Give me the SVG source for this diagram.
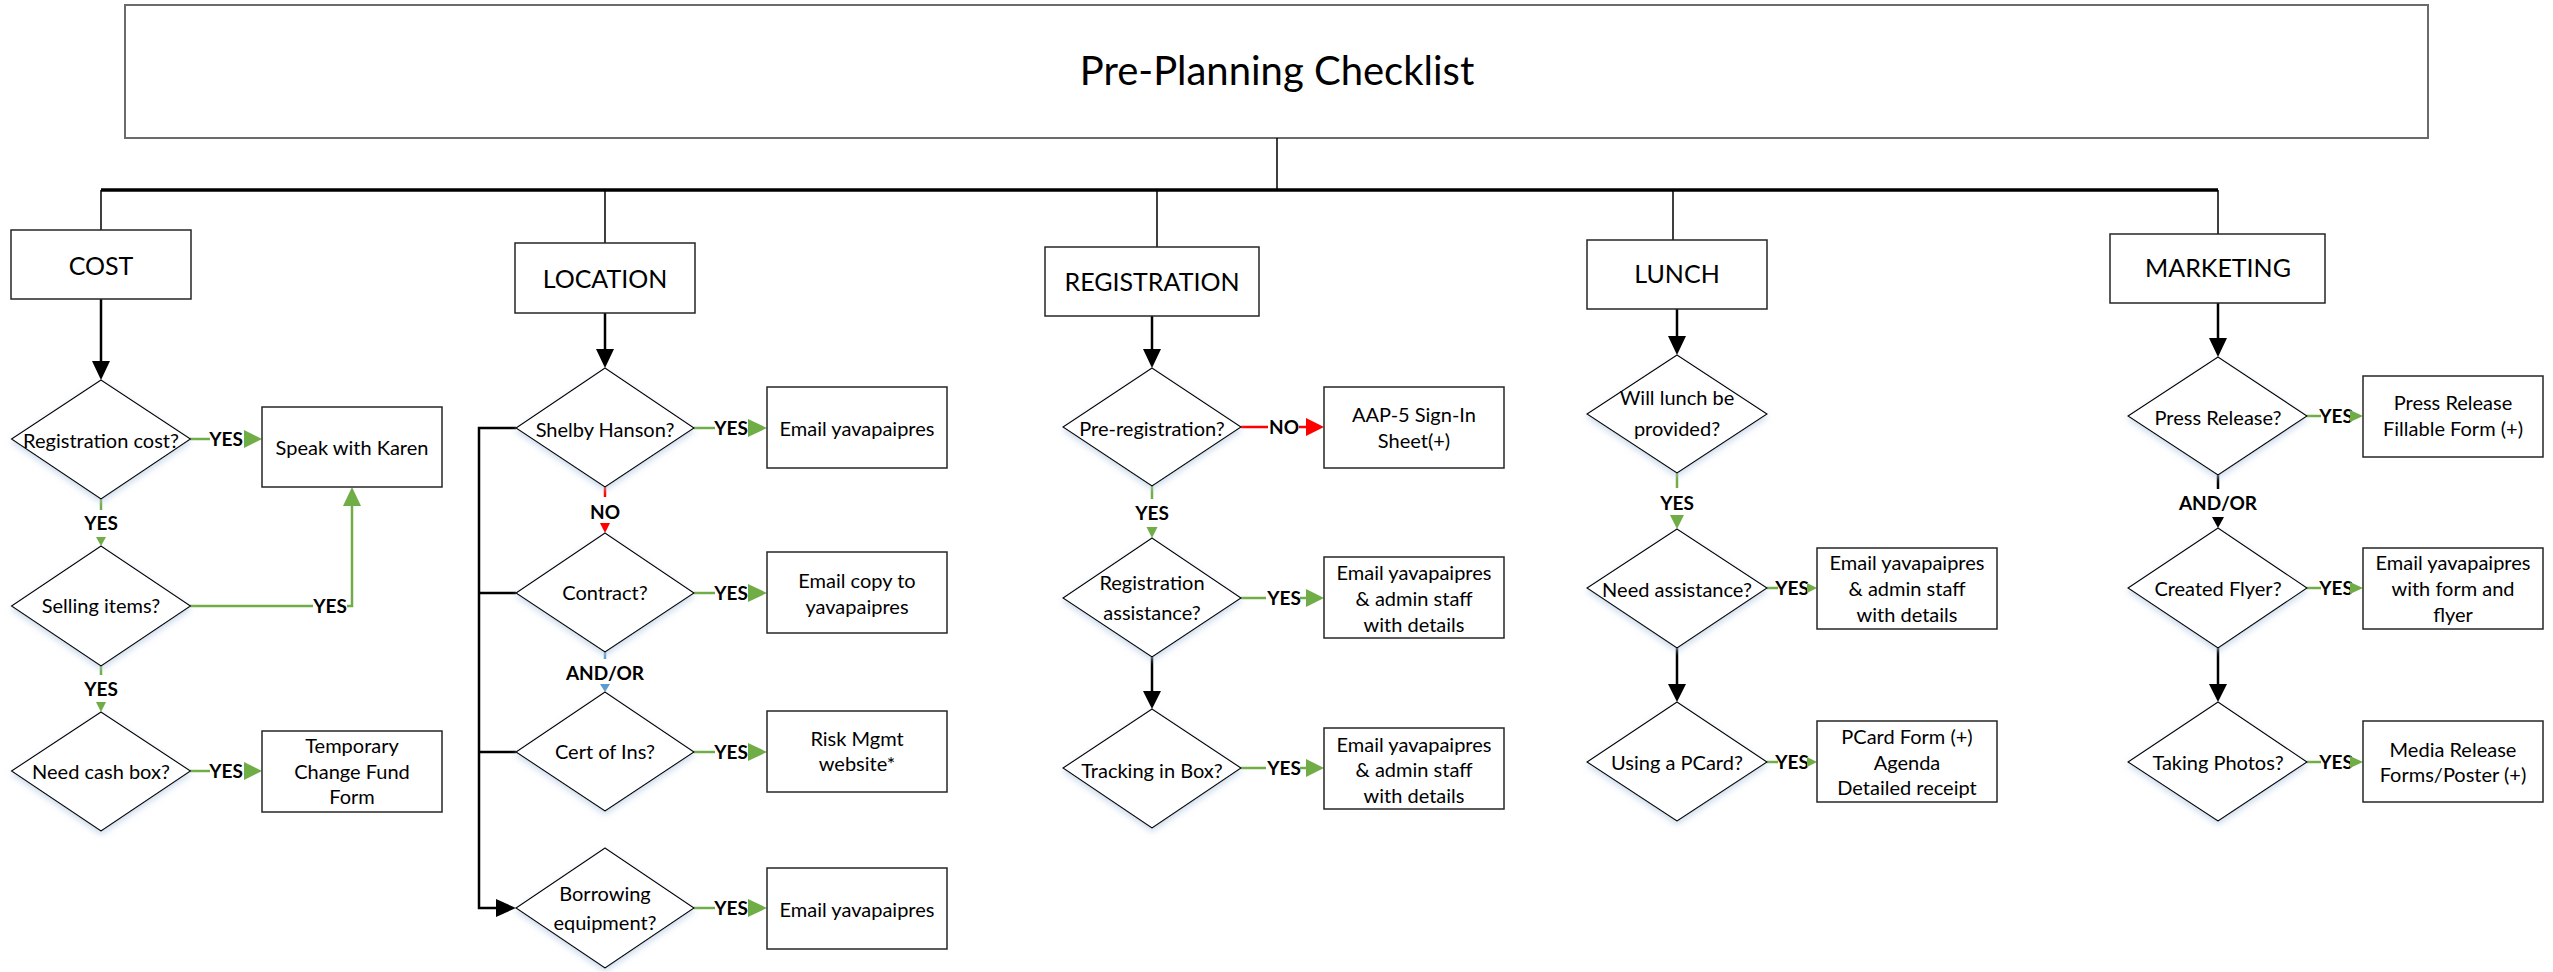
<svg xmlns="http://www.w3.org/2000/svg" width="2553" height="972" viewBox="0 0 2553 972">
<style>
.bg{fill:#fff}
.box{fill:#fff;stroke:#262626;stroke-width:1.5}
.title{fill:#fff;stroke:#6b6b6b;stroke-width:2}
.dia{fill:#fff;stroke:#000;stroke-width:1.2;filter:url(#glow)}
.t{font-family:Lato,"Liberation Sans",sans-serif;font-size:20px;fill:#000;text-anchor:middle}
.h{font-size:25px}
.tt{font-size:40px}
.lbl{font-family:Lato,"Liberation Sans",sans-serif;font-weight:bold;font-size:19px;fill:#000;text-anchor:middle}
.g{stroke:#70AD47;stroke-width:2.5;fill:none}
.r{stroke:#FF0000;stroke-width:2.5;fill:none}
.bl{stroke:#5B9BD5;stroke-width:2.5;fill:none}
.k{stroke:#000;stroke-width:2.5;fill:none}
.kt{stroke:#000;stroke-width:1.5;fill:none}
.bus{stroke:#000;stroke-width:3.5;fill:none}
.ga{fill:#70AD47}
.ra{fill:#FF0000}
.ba{fill:#5B9BD5}
.ka{fill:#000}
</style>
<defs>
<filter id="glow" x="-20%" y="-20%" width="140%" height="150%">
<feDropShadow dx="0" dy="3" stdDeviation="3" flood-color="#b8cce4" flood-opacity="0.7"/>
</filter>
</defs>
<rect class="bg" x="0" y="0" width="2553" height="972"/>

<!-- Title -->
<g id="title">
<rect class="title" x="125" y="5" width="2303" height="133"/>
<text class="t tt" x="1277" y="85">Pre-Planning Checklist</text>
</g>

<!-- Connectors -->
<g id="connectors">
<path class="kt" d="M1277,138 V190"/>
<path class="bus" d="M101,190 H2218"/>
<path class="kt" d="M101,190 V230 M605,190 V243 M1157,190 V247 M1673,190 V240 M2218,190 V234"/>

<!-- COST -->
<path class="k" d="M101,299 V362"/><polygon class="ka" points="92,361 110,361 101,380"/>
<path class="g" d="M190,439 H210"/><text class="lbl" x="226" y="446">YES</text><polygon class="ga" points="244,430 262,439 244,448"/>
<path class="g" d="M101,499 V510"/><text class="lbl" x="101" y="530">YES</text><polygon class="ga" points="96,537 106,537 101,546"/>
<path class="g" d="M190,606 H313 M347,606 H352 V506"/><text class="lbl" x="330" y="613">YES</text><polygon class="ga" points="343,506 361,506 352,487"/>
<path class="g" d="M101,666 V675"/><text class="lbl" x="101" y="696">YES</text><polygon class="ga" points="96,702 106,702 101,712"/>
<path class="g" d="M190,771 H210"/><text class="lbl" x="226" y="778">YES</text><polygon class="ga" points="244,762 262,771 244,780"/>

<!-- LOCATION -->
<path class="k" d="M605,313 V350"/><polygon class="ka" points="596,349 614,349 605,368"/>
<path class="g" d="M694,428 H715"/><text class="lbl" x="731" y="435">YES</text><polygon class="ga" points="748,419 767,428 748,437"/>
<path class="r" d="M605,487 V497"/><text class="lbl" x="605" y="519">NO</text><polygon class="ra" points="600,523 610,523 605,533"/>
<path class="g" d="M694,593 H715"/><text class="lbl" x="731" y="600">YES</text><polygon class="ga" points="748,584 767,593 748,602"/>
<path class="bl" d="M605,652 V659"/><text class="lbl" x="605" y="680">AND/OR</text><polygon class="ba" points="600,684 610,684 605,692"/>
<path class="g" d="M694,752 H715"/><text class="lbl" x="731" y="759">YES</text><polygon class="ga" points="748,743 767,752 748,761"/>
<path class="g" d="M694,908 H715"/><text class="lbl" x="731" y="915">YES</text><polygon class="ga" points="748,899 767,908 748,917"/>
<path class="k" d="M516,428 H479 V908 H497 M479,593 H516 M479,752 H516"/><polygon class="ka" points="496,899 516,908 496,917"/>

<!-- REGISTRATION -->
<path class="k" d="M1152,316 V350"/><polygon class="ka" points="1143,349 1161,349 1152,368"/>
<path class="r" d="M1241,427 H1268 M1299,427 H1307"/><text class="lbl" x="1284" y="434">NO</text><polygon class="ra" points="1306,418 1324,427 1306,436"/>
<path class="g" d="M1152,486 V499"/><text class="lbl" x="1152" y="520">YES</text><polygon class="ga" points="1146.5,527 1157.5,527 1152,538"/>
<path class="g" d="M1241,598 H1266 M1300,598 H1307"/><text class="lbl" x="1284" y="605">YES</text><polygon class="ga" points="1306,589 1324,598 1306,607"/>
<path class="k" d="M1152,657 V692"/><polygon class="ka" points="1143,691 1161,691 1152,709"/>
<path class="g" d="M1241,768 H1266 M1300,768 H1307"/><text class="lbl" x="1284" y="775">YES</text><polygon class="ga" points="1306,759 1324,768 1306,777"/>

<!-- LUNCH -->
<path class="k" d="M1677,309 V337"/><polygon class="ka" points="1668,336 1686,336 1677,355"/>
<path class="g" d="M1677,473 V488"/><text class="lbl" x="1677" y="510">YES</text><polygon class="ga" points="1670,515 1684,515 1677,529"/>
<path class="g" d="M1767,588 H1778"/><text class="lbl" x="1792" y="595">YES</text><polygon class="ga" points="1807,583 1817,588 1807,593"/>
<path class="k" d="M1677,648 V685"/><polygon class="ka" points="1668,684 1686,684 1677,702"/>
<path class="g" d="M1767,762 H1778"/><text class="lbl" x="1792" y="769">YES</text><polygon class="ga" points="1807,757 1817,762 1807,767"/>

<!-- MARKETING -->
<path class="k" d="M2218,303 V339"/><polygon class="ka" points="2209,338 2227,338 2218,357"/>
<path class="g" d="M2307,416 H2321"/><text class="lbl" x="2336" y="423">YES</text><polygon class="ga" points="2350,410 2363,416 2350,422"/>
<path class="k" d="M2218,475 V489"/><text class="lbl" x="2218" y="510">AND/OR</text><polygon class="ka" points="2212,517 2224,517 2218,528"/>
<path class="g" d="M2307,588 H2321"/><text class="lbl" x="2336" y="595">YES</text><polygon class="ga" points="2350,582 2363,588 2350,594"/>
<path class="k" d="M2218,648 V685"/><polygon class="ka" points="2209,684 2227,684 2218,702"/>
<path class="g" d="M2307,762 H2321"/><text class="lbl" x="2336" y="769">YES</text><polygon class="ga" points="2350,756 2363,762 2350,768"/>
</g>

<!-- COST nodes -->
<g id="cost"><rect class="box" x="11" y="230" width="180" height="69"/><text class="t h" x="101" y="275">COST</text></g>
<g id="cost-q1"><polygon class="dia" points="101,380 190.5,439 101,499 11.5,439"/><text class="t" x="101" y="448">Registration cost?</text></g>
<g id="cost-a1"><rect class="box" x="262" y="407" width="180" height="80"/><text class="t" x="352" y="455">Speak with Karen</text></g>
<g id="cost-q2"><polygon class="dia" points="101,546 190.5,606 101,666 11.5,606"/><text class="t" x="101" y="613">Selling items?</text></g>
<g id="cost-q3"><polygon class="dia" points="101,712 190.5,771 101,831 11.5,771"/><text class="t" x="101" y="779">Need cash box?</text></g>
<g id="cost-a3"><rect class="box" x="262" y="731" width="180" height="81"/><text class="t" x="352" y="753">Temporary</text><text class="t" x="352" y="778.5">Change Fund</text><text class="t" x="352" y="804">Form</text></g>

<!-- LOCATION nodes -->
<g id="location"><rect class="box" x="515" y="243" width="180" height="70"/><text class="t h" x="605" y="288">LOCATION</text></g>
<g id="loc-q1"><polygon class="dia" points="605,368 694,428 605,487 516,428"/><text class="t" x="605" y="437">Shelby Hanson?</text></g>
<g id="loc-a1"><rect class="box" x="767" y="387" width="180" height="81"/><text class="t" x="857" y="436">Email yavapaipres</text></g>
<g id="loc-q2"><polygon class="dia" points="605,533 694,593 605,652 516,593"/><text class="t" x="605" y="600">Contract?</text></g>
<g id="loc-a2"><rect class="box" x="767" y="552" width="180" height="81"/><text class="t" x="857" y="588">Email copy to</text><text class="t" x="857" y="614">yavapaipres</text></g>
<g id="loc-q3"><polygon class="dia" points="605,692 694,752 605,811 516,752"/><text class="t" x="605" y="759">Cert of Ins?</text></g>
<g id="loc-a3"><rect class="box" x="767" y="711" width="180" height="81"/><text class="t" x="857" y="746">Risk Mgmt</text><text class="t" x="857" y="771">website*</text></g>
<g id="loc-q4"><polygon class="dia" points="605,848 694,908 605,968 516,908"/><text class="t" x="605" y="901">Borrowing</text><text class="t" x="605" y="930">equipment?</text></g>
<g id="loc-a4"><rect class="box" x="767" y="868" width="180" height="81"/><text class="t" x="857" y="917">Email yavapaipres</text></g>

<!-- REGISTRATION nodes -->
<g id="registration"><rect class="box" x="1045" y="247" width="214" height="69"/><text class="t h" x="1152" y="291">REGISTRATION</text></g>
<g id="reg-q1"><polygon class="dia" points="1152,368 1241,427 1152,486 1063,427"/><text class="t" x="1152" y="436">Pre-registration?</text></g>
<g id="reg-a1"><rect class="box" x="1324" y="387" width="180" height="81"/><text class="t" x="1414" y="422">AAP-5 Sign-In</text><text class="t" x="1414" y="448">Sheet(+)</text></g>
<g id="reg-q2"><polygon class="dia" points="1152,538 1241,598 1152,657 1063,598"/><text class="t" x="1152" y="590">Registration</text><text class="t" x="1152" y="620">assistance?</text></g>
<g id="reg-a2"><rect class="box" x="1324" y="557" width="180" height="81"/><text class="t" x="1414" y="580">Email yavapaipres</text><text class="t" x="1414" y="606">&amp; admin staff</text><text class="t" x="1414" y="632">with details</text></g>
<g id="reg-q3"><polygon class="dia" points="1152,709 1241,768 1152,828 1063,768"/><text class="t" x="1152" y="778">Tracking in Box?</text></g>
<g id="reg-a3"><rect class="box" x="1324" y="728" width="180" height="81"/><text class="t" x="1414" y="752">Email yavapaipres</text><text class="t" x="1414" y="777">&amp; admin staff</text><text class="t" x="1414" y="803">with details</text></g>

<!-- LUNCH nodes -->
<g id="lunch"><rect class="box" x="1587" y="240" width="180" height="69"/><text class="t h" x="1677" y="283">LUNCH</text></g>
<g id="lunch-q1"><polygon class="dia" points="1677,355 1767,414 1677,473 1587,414"/><text class="t" x="1677" y="405">Will lunch be</text><text class="t" x="1677" y="436">provided?</text></g>
<g id="lunch-q2"><polygon class="dia" points="1677,529 1767,588 1677,648 1587,588"/><text class="t" x="1677" y="597">Need assistance?</text></g>
<g id="lunch-a2"><rect class="box" x="1817" y="548" width="180" height="81"/><text class="t" x="1907" y="570">Email yavapaipres</text><text class="t" x="1907" y="596">&amp; admin staff</text><text class="t" x="1907" y="622">with details</text></g>
<g id="lunch-q3"><polygon class="dia" points="1677,702 1767,762 1677,821 1587,762"/><text class="t" x="1677" y="770">Using a PCard?</text></g>
<g id="lunch-a3"><rect class="box" x="1817" y="721" width="180" height="81"/><text class="t" x="1907" y="744">PCard Form (+)</text><text class="t" x="1907" y="770">Agenda</text><text class="t" x="1907" y="795">Detailed receipt</text></g>

<!-- MARKETING nodes -->
<g id="marketing"><rect class="box" x="2110" y="234" width="215" height="69"/><text class="t h" x="2218" y="277">MARKETING</text></g>
<g id="mkt-q1"><polygon class="dia" points="2218,357 2307,416 2218,475 2128,416"/><text class="t" x="2218" y="425">Press Release?</text></g>
<g id="mkt-a1"><rect class="box" x="2363" y="376" width="180" height="81"/><text class="t" x="2453" y="410">Press Release</text><text class="t" x="2453" y="436">Fillable Form (+)</text></g>
<g id="mkt-q2"><polygon class="dia" points="2218,528 2307,588 2218,648 2128,588"/><text class="t" x="2218" y="596">Created Flyer?</text></g>
<g id="mkt-a2"><rect class="box" x="2363" y="548" width="180" height="81"/><text class="t" x="2453" y="570">Email yavapaipres</text><text class="t" x="2453" y="596">with form and</text><text class="t" x="2453" y="622">flyer</text></g>
<g id="mkt-q3"><polygon class="dia" points="2218,702 2307,762 2218,821 2128,762"/><text class="t" x="2218" y="770">Taking Photos?</text></g>
<g id="mkt-a3"><rect class="box" x="2363" y="721" width="180" height="81"/><text class="t" x="2453" y="757">Media Release</text><text class="t" x="2453" y="782">Forms/Poster (+)</text></g>
</svg>
